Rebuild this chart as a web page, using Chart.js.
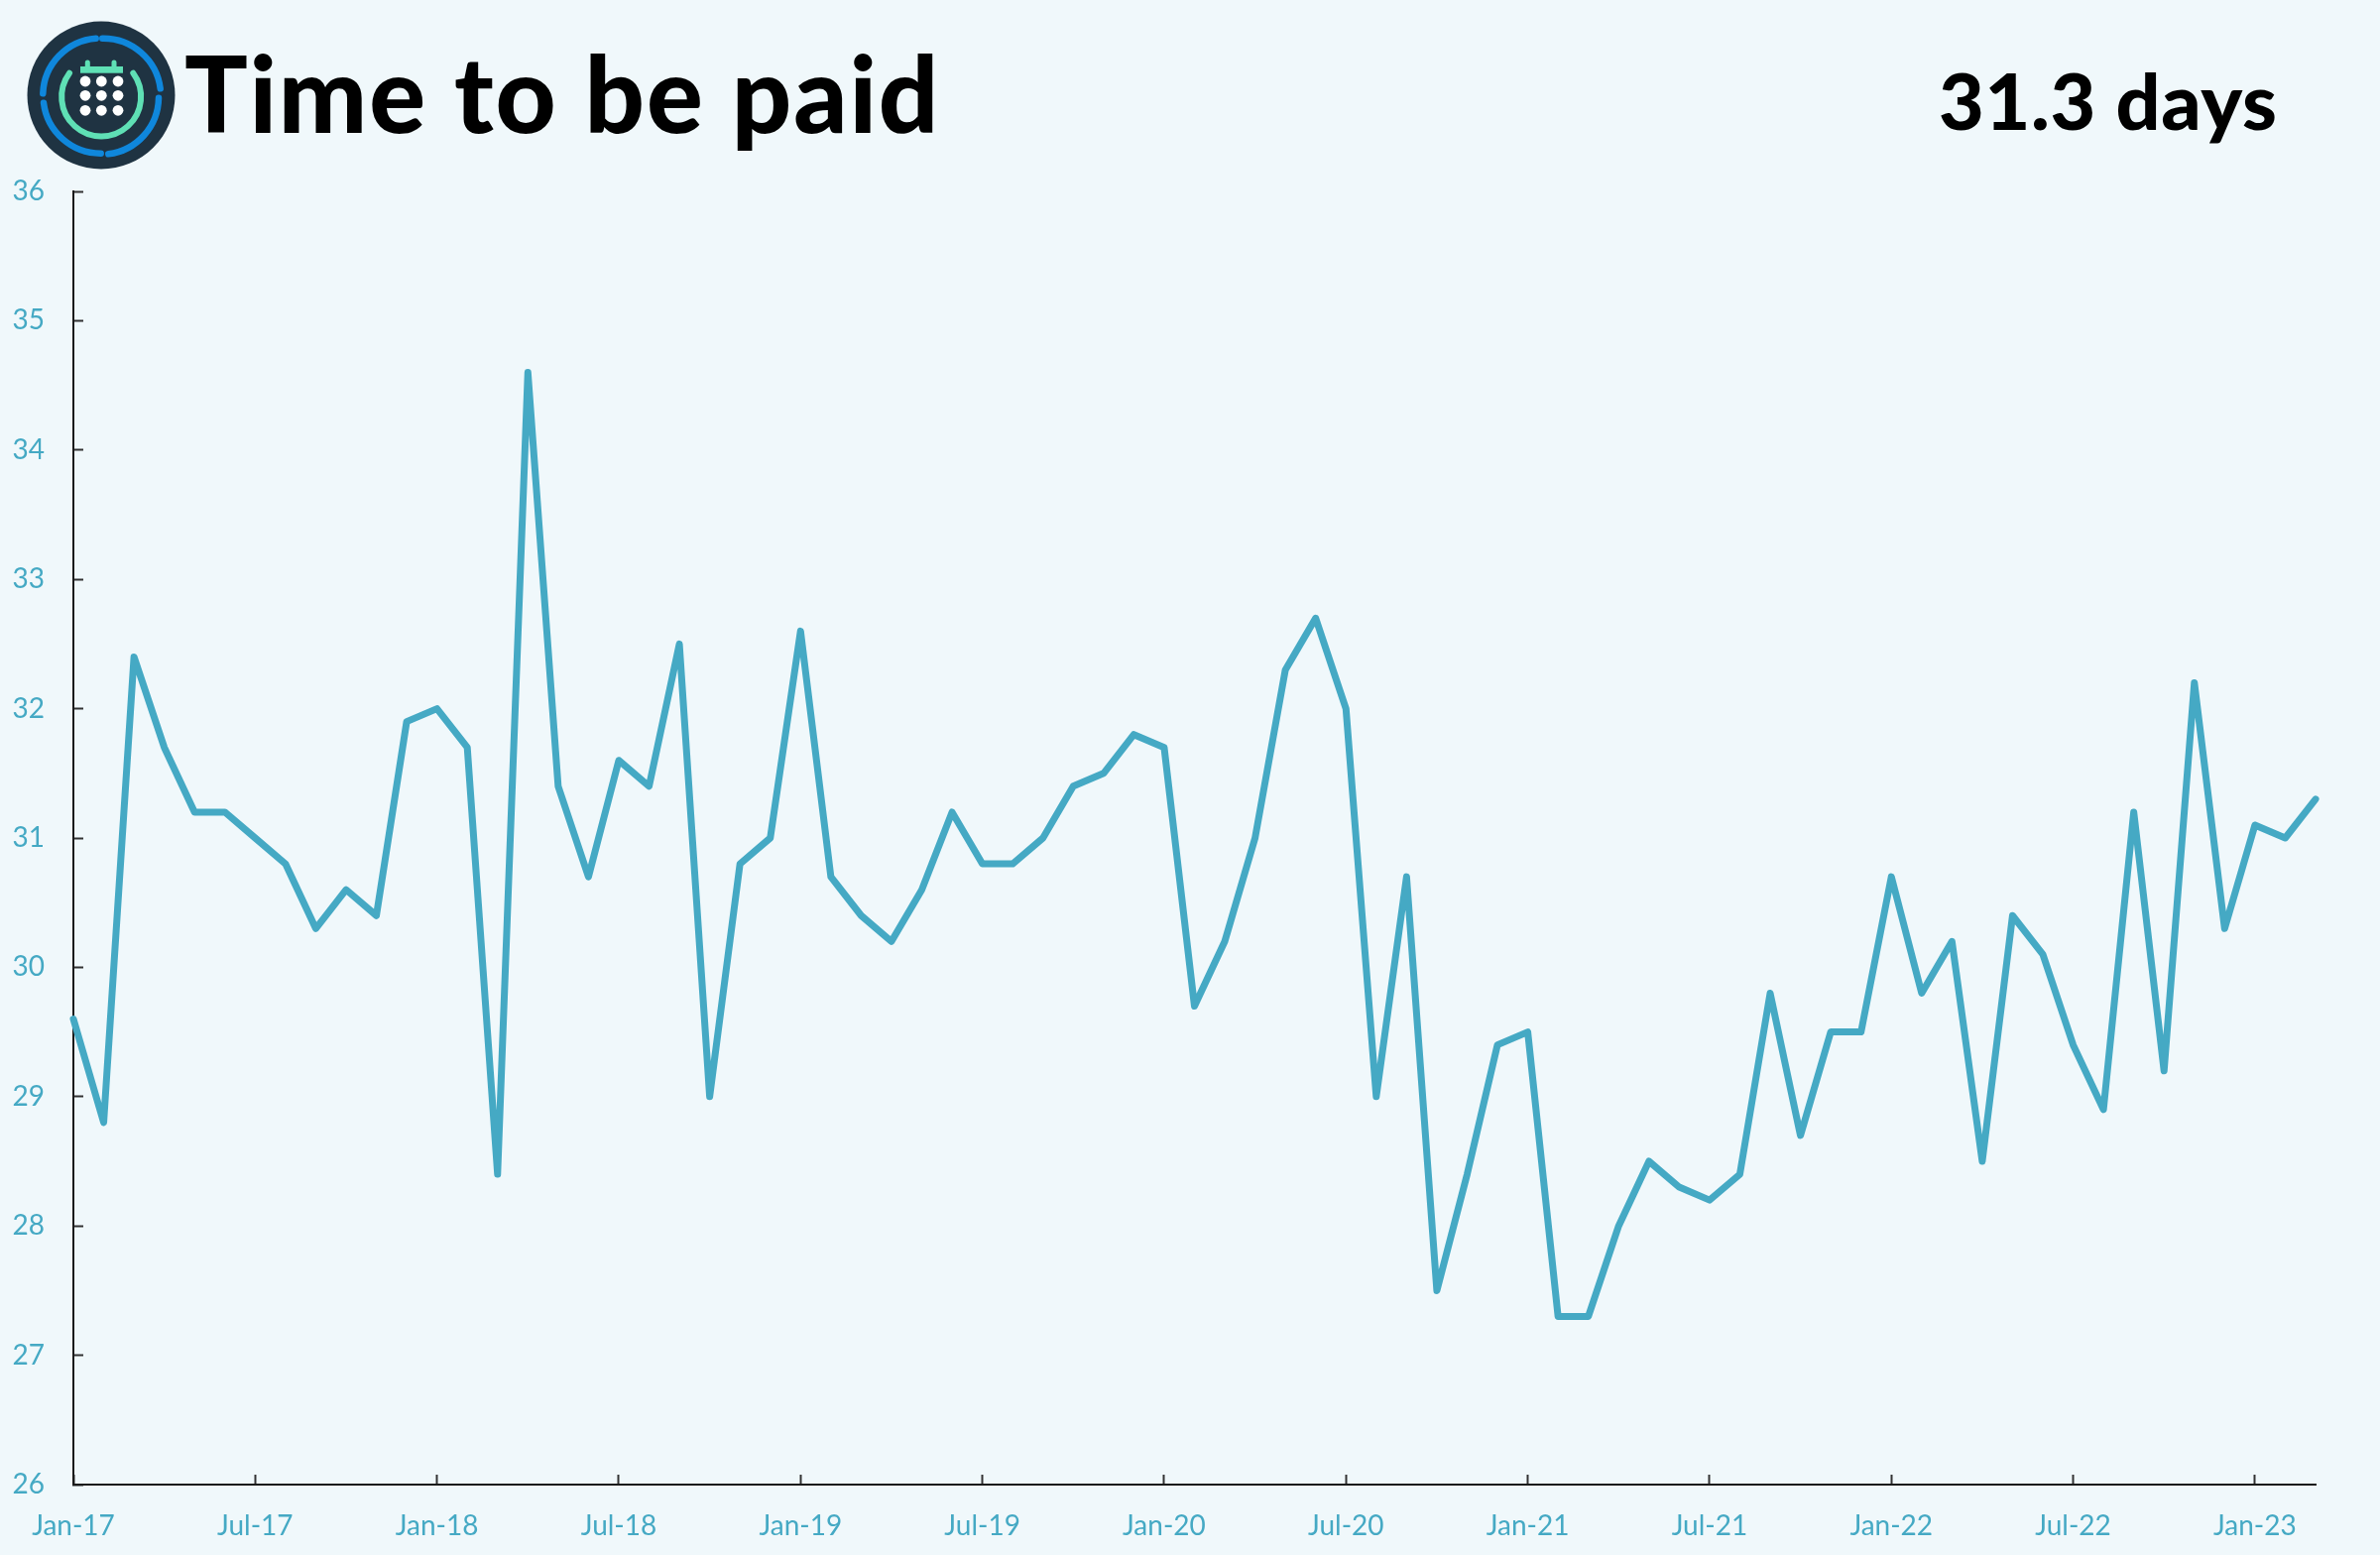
<!DOCTYPE html>
<html>
<head>
<meta charset="utf-8">
<title>Time to be paid</title>
<script src="https://cdn.jsdelivr.net/npm/chart.js@4"></script>
<style>
  html, body { margin: 0; padding: 0; background: #f0f8fb; }
  #wrap { position: relative; width: 2400px; height: 1568px; overflow: hidden; background: #f0f8fb; }
  #timeChart { position: absolute; left: 0; top: 0; }
  #logo { position: absolute; left: 27px; top: 20px; }
  #title, #latest { position: absolute; font-family: Lato, sans-serif; font-weight: 900; color: #000; white-space: nowrap; line-height: 1; }
  #title { left: 186px; top: 40px; font-size: 106px; letter-spacing: 1.9px; }
  #latest { left: 1955px; top: 61px; font-size: 79px; letter-spacing: 0.7px; }
</style>
</head>
<body>
<div id="wrap">
  <canvas id="timeChart" width="2400" height="1568"></canvas>

  <!-- round logo -->
  <svg id="logo" width="150" height="152" viewBox="0 0 150 152">
    <circle cx="75" cy="76" r="74.5" fill="#1f3342"/>
    <g fill="none" stroke="#0f87dc" stroke-width="6.5" stroke-linecap="round">
      <path d="M16.3 74.3 A58 58 0 0 1 69.7 18.7"/>
      <path d="M76.3 18.7 A58 58 0 0 1 134.7 69.3"/>
      <path d="M133 78.7 A58 58 0 0 1 82.3 135.3"/>
      <path d="M74.7 134.7 A58 58 0 0 1 17 83.7"/>
    </g>
    <path d="M43 53.7 A40 40 0 1 0 107.3 53.7" fill="none" stroke="#5fe0b5" stroke-width="6" stroke-linecap="round"/>
    <rect x="54" y="47" width="43" height="6.7" fill="#5fe0b5"/>
    <path d="M61.3 47 V43 M88 47 V43" stroke="#5fe0b5" stroke-width="5" stroke-linecap="round"/>
    <g fill="#fff">
      <circle cx="59" cy="62" r="5.4"/><circle cx="75.3" cy="62" r="5.4"/><circle cx="92" cy="62" r="5.4"/>
      <circle cx="59" cy="76.3" r="5.4"/><circle cx="75.3" cy="76.3" r="5.4"/><circle cx="92" cy="76.3" r="5.4"/>
      <circle cx="59" cy="91.3" r="5.4"/><circle cx="75.3" cy="91.3" r="5.4"/><circle cx="92" cy="91.3" r="5.4"/>
    </g>
  </svg>

  <div id="title">Time to be paid</div>
  <div id="latest">31.3 days</div>
</div>

<script>
// ------------------------------------------- Data --------------------------------------------------

const years = ['17', '18', '19', '20', '21', '22', '23'];
const months = ['Jan', 'Feb', 'Mar', 'Apr', 'May', 'Jun', 'Jul', 'Aug', 'Sep', 'Oct', 'Nov', 'Dec'];

// Jan-17 to Mar-23
const categories = [];
years.forEach(y => months.forEach(m => categories.push(m + '-' + y)));
categories.length = 75;

const daysToPay = [
    29.6, 28.8, 32.4, 31.7, 31.2, 31.2, 31.0, 30.8, 30.3, 30.6, 30.4, 31.9,
    32.0, 31.7, 28.4, 34.6, 31.4, 30.7, 31.6, 31.4, 32.5, 29.0, 30.8, 31.0,
    32.6, 30.7, 30.4, 30.2, 30.6, 31.2, 30.8, 30.8, 31.0, 31.4, 31.5, 31.8,
    31.7, 29.7, 30.2, 31.0, 32.3, 32.7, 32.0, 29.0, 30.7, 27.5, 28.4, 29.4,
    29.5, 27.3, 27.3, 28.0, 28.5, 28.3, 28.2, 28.4, 29.8, 28.7, 29.5, 29.5,
    30.7, 29.8, 30.2, 28.5, 30.4, 30.1, 29.4, 28.9, 31.2, 29.2, 32.2, 30.3,
    31.1, 31.0, 31.3
];

const yMin = 26;
const yMax = 36;

// ------------------------------------------- Chart.js --------------------------------------------------

const tealColor = '#45a9c4';
const axisColor = '#1a1a1a';
const tickFont = { family: 'Lato, sans-serif', size: 28 };

const ctx = document.getElementById('timeChart');
const timeChart = new Chart(ctx, {
    type: 'line',
    data: {
        labels: categories,
        datasets: [{
            label: 'Time to be paid',
            data: daysToPay,
            borderColor: tealColor,
            borderWidth: 7,
            tension: 0,
            pointRadius: 0,
            borderCapStyle: 'round',
            borderJoinStyle: 'round',
            clip: false
        }]
    },
    options: {
        responsive: false,
        animation: false,
        layout: {
            padding: { left: 0, top: 193, right: 65, bottom: 0 }
        },
        plugins: {
            legend: { display: false },
            tooltip: { enabled: false },
            title: { display: false }
        },
        scales: {
            x: {
                grid: {
                    drawOnChartArea: false,
                    tickLength: -10,
                    tickColor: '#333333',
                    tickWidth: 2
                },
                border: { color: axisColor, width: 2 },
                ticks: {
                    autoSkip: false,
                    maxRotation: 0,
                    color: tealColor,
                    font: tickFont,
                    padding: 35
                },
                // a tick every six months
                afterBuildTicks: axis => {
                    axis.ticks = axis.ticks.filter(t => t.value % 6 === 0);
                },
                afterFit: axis => {
                    axis.height = 71;
                    axis.paddingLeft = 0;
                    axis.paddingRight = 0;
                }
            },
            y: {
                min: yMin,
                max: yMax,
                grid: {
                    drawOnChartArea: false,
                    tickLength: -10,
                    tickColor: '#333333',
                    tickWidth: 2
                },
                border: { color: axisColor, width: 2 },
                ticks: {
                    stepSize: 1,
                    color: tealColor,
                    font: tickFont,
                    padding: 39
                },
                afterFit: axis => { axis.width = 74; }
            }
        }
    }
});
</script>
</body>
</html>
